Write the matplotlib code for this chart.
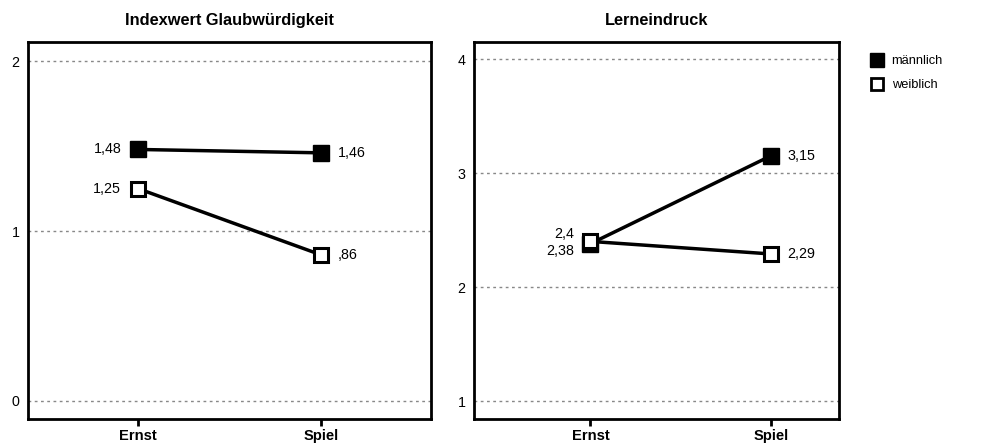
import matplotlib.pyplot as plt
from matplotlib.lines import Line2D

plt.rcParams['font.family'] = ['Liberation Sans', 'DejaVu Sans']

# conditions on the x axis
conditions = ["Ernst", "Spiel"]

# Indexwert Glaubwürdigkeit
glaub_m = [1.48, 1.46]
glaub_w = [1.25, 0.86]
glaub_m_lbl = ["1,48", "1,46"]
glaub_w_lbl = ["1,25", ",86"]

# Lerneindruck
lern_m = [2.38, 3.15]
lern_w = [2.4, 2.29]
lern_m_lbl = ["2,38", "3,15"]
lern_w_lbl = ["2,4", "2,29"]

fig = plt.figure(figsize=(10.07, 4.48), dpi=100)
ax1 = fig.add_axes([0.0278, 0.0647, 0.400, 0.8415])
ax2 = fig.add_axes([0.4707, 0.0647, 0.3625, 0.8415])

x = [0, 1]
fs = 10.3


def draw_panel(ax, m, w, yticks, ylim, xlim, title):
    ax.set_xlim(*xlim)
    ax.set_ylim(*ylim)
    ax.set_yticks(yticks)
    ax.set_yticklabels([str(t) for t in yticks], fontsize=fs)
    ax.yaxis.set_tick_params(length=0, pad=6)
    ax.set_xticks(x)
    ax.set_xticklabels(conditions, fontsize=10.6, fontweight='bold')
    ax.xaxis.set_tick_params(length=5, width=2, direction='out', pad=2)
    for t in yticks:
        ax.axhline(t, color='#888888', lw=1, ls=(0, (2, 2.5)), zorder=0)
    for s in ax.spines.values():
        s.set_linewidth(2)
    ax.plot(x, m, color='black', lw=2.5, marker='s', ms=11,
            mfc='black', mec='black', zorder=3, label='männlich')
    ax.plot(x, w, color='black', lw=2.5, marker='s', ms=10, mew=2.2,
            mfc='white', mec='black', zorder=4, label='weiblich')
    ax.set_title(title, fontsize=11.8, fontweight='bold', pad=12)


draw_panel(ax1, glaub_m, glaub_w, [0, 1, 2], (-0.106, 2.112), (-0.6, 1.6),
           "Indexwert Glaubwürdigkeit")
draw_panel(ax2, lern_m, lern_w, [1, 2, 3, 4], (0.842, 4.149), (-0.646, 1.379),
           "Lerneindruck")

# value labels
ax1.annotate(glaub_m_lbl[0], (x[0], glaub_m[0]), xytext=(-12, 0), textcoords='offset points',
             ha='right', va='center', fontsize=fs)
ax1.annotate(glaub_w_lbl[0], (x[0], glaub_w[0]), xytext=(-12, 0), textcoords='offset points',
             ha='right', va='center', fontsize=fs)
ax1.annotate(glaub_m_lbl[1], (x[1], glaub_m[1]), xytext=(12, 0), textcoords='offset points',
             ha='left', va='center', fontsize=fs)
ax1.annotate(glaub_w_lbl[1], (x[1], glaub_w[1]), xytext=(12, 0), textcoords='offset points',
             ha='left', va='center', fontsize=fs)

ax2.annotate(lern_w_lbl[0], (x[0], lern_w[0]), xytext=(-12, 5), textcoords='offset points',
             ha='right', va='center', fontsize=fs)
ax2.annotate(lern_m_lbl[0], (x[0], lern_m[0]), xytext=(-12, -5), textcoords='offset points',
             ha='right', va='center', fontsize=fs)
ax2.annotate(lern_m_lbl[1], (x[1], lern_m[1]), xytext=(12, 0), textcoords='offset points',
             ha='left', va='center', fontsize=fs)
ax2.annotate(lern_w_lbl[1], (x[1], lern_w[1]), xytext=(12, 0), textcoords='offset points',
             ha='left', va='center', fontsize=fs)

# legend: markers only
handles = [Line2D([], [], ls='none', marker='s', ms=9.5, mfc='black', mec='black'),
           Line2D([], [], ls='none', marker='s', ms=8.5, mew=2, mfc='white', mec='black')]
fig.legend(handles, ['männlich', 'weiblich'], loc='upper left',
           bbox_to_anchor=(0.852, 0.903), frameon=False, fontsize=9.3,
           handletextpad=0.5, labelspacing=0.92, handlelength=1.2)

fig.savefig('out.png', dpi=100)
